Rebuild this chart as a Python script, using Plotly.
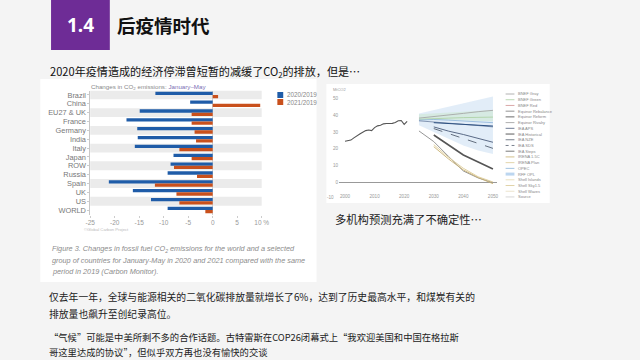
import plotly.graph_objects as go

# ---------------- data: left bar chart ----------------
countries = ["Brazil", "China", "EU27 & UK", "France", "Germany", "India", "Italy",
             "Japan", "ROW", "Russia", "Spain", "UK", "US", "WORLD"]
chg_2020 = [-11.7, -4.6, -14.9, -17.6, -15.4, -15.3, -15.9, -8.0, -8.6, -9.2, -21.2, -16.3, -12.6, -9.2]
chg_2021 = [1.1, 9.7, -4.3, -4.3, -3.7, -3.4, -6.8, -4.3, -7.9, -3.2, -11.8, -7.4, -6.8, -1.5]
bar_x_ticks = [-25, -20, -15, -10, -5, 0, 5, 10]
bar_x_labels = ["-25", "-20", "-15", "-10", "-5", "0", "5", "10 %"]
bar_series_names = ["2020/2019", "2021/2019"]

# ---------------- data: right line chart ----------------
hist_years = list(range(2000, 2022))
hist_emis = [24.5, 24.7, 25.2, 26.5, 27.8, 28.8, 29.8, 30.8, 31.2, 30.8, 32.6,
             33.6, 34.0, 34.8, 35.0, 35.0, 35.1, 35.6, 36.6, 36.8, 34.5, 36.3]
proj_years = [2025, 2030, 2035, 2040, 2045, 2050]
bnef_gray = [38.2, 39.0, 40.0, 41.0, 42.0, 42.8]
equinor_rivalry = [37.5, 38.0, 38.2, 38.5, 38.6, 38.8]
opec = [37.0, 37.4, 37.0, 36.5, 36.0, 35.5]
equinor_reform = [36.6, 36.0, 35.2, 34.5, 33.8, 33.0]
iea_steps = [None, 35.5, 35.0, 34.5, 34.0, 33.5]
iea_aps = [None, 33.0, 30.5, 28.5, 26.0, 23.9]
iea_sds = [None, 32.0, 29.0, 26.0, 23.0, 20.3]
bnef_green = [None, 28.2, 22.3, 16.4, 12.2, 8.1]
equinor_rebalance = [30.6, 24.3, 15.5, 6.9, 2.8, 0.0]
iea_nze = [None, 21.3, 14.0, 7.5, 3.0, -0.6]
irena_15c = [None, 22.5, 15.0, 8.5, 3.5, 0.4]
fan_upper = [41.0, 43.0, 45.0, 47.0, 49.0, 51.0]
fan_lower = [34.0, 30.0, 26.0, 22.0, 19.0, 17.0]
green_upper = [40.5, 41.0, 41.5, 42.0, 42.5, 43.0]
green_lower = [37.5, 37.3, 37.0, 36.8, 36.5, 36.3]
line_x_ticks = [2000, 2010, 2020, 2030, 2040, 2050]
line_y_ticks = [0, 10, 20, 30, 40, 50]
legend_names = ["BNEF Gray", "BNEF Green", "BNEF Red", "Equinor Rebalance", "Equinor Reform",
                "Equinor Rivalry", "IEA APS", "IEA Historical", "IEA NZE", "IEA SDS", "IEA Steps",
                "IRENA 1.5C", "IRENA Plan", "OPEC", "RFF OPL", "Shell Islands", "Shell Sky1.5",
                "Shell Waves", "Source"]

W, H = 640, 360
def px(x): return x / W
def py(y): return 1 - y / H

BLUE = "#1f5ca8"
ORANGE = "#c9501c"
CJK = "Noto Sans CJK SC"
LAT = "Liberation Sans"

fig = go.Figure()

# bar chart
fig.add_trace(go.Bar(y=countries, x=chg_2020, orientation="h", name=bar_series_names[0],
                     marker=dict(color=BLUE, line=dict(width=0)), xaxis="x", yaxis="y"))
fig.add_trace(go.Bar(y=countries, x=chg_2021, orientation="h", name=bar_series_names[1],
                     marker=dict(color=ORANGE, line=dict(width=0)), xaxis="x", yaxis="y"))

# line chart: fans
def band(upper, lower, color):
    fig.add_trace(go.Scatter(x=proj_years + proj_years[::-1], y=upper + lower[::-1],
                             fill="toself", fillcolor=color, line=dict(width=0), mode="lines",
                             xaxis="x2", yaxis="y2", hoverinfo="skip"))
band(fan_upper, fan_lower, "rgba(190,215,240,0.45)")
band(green_upper, green_lower, "rgba(200,230,200,0.45)")

proj_lines = [
    (bnef_gray, "#a0a0a0", 0.8, "solid"),
    (equinor_rivalry, "#a9cf9f", 0.8, "solid"),
    (opec, "#8cb4d8", 0.8, "solid"),
    (equinor_reform, "#6b7fa0", 0.8, "solid"),
    (iea_steps, "#2b4f80", 1.0, "solid"),
    (iea_aps, "#4a5a78", 0.9, "solid"),
    (iea_sds, "#556070", 0.9, "dash"),
    (bnef_green, "#555555", 1.6, "solid"),
    (equinor_rebalance, "#8a8a8a", 0.9, "solid"),
    (iea_nze, "#c8b070", 0.9, "solid"),
    (irena_15c, "#dccb95", 0.9, "solid"),
]
for vals, col, wd, dsh in proj_lines:
    fig.add_trace(go.Scatter(x=proj_years, y=vals, mode="lines",
                             line=dict(color=col, width=wd, dash=dsh),
                             xaxis="x2", yaxis="y2", connectgaps=False))
fig.add_trace(go.Scatter(x=hist_years, y=hist_emis, mode="lines",
                         line=dict(color="#555555", width=1.1), xaxis="x2", yaxis="y2"))

shapes = []
# panel backgrounds
shapes.append(dict(type="rect", xref="paper", yref="paper", x0=px(36), x1=px(318), y0=py(282), y1=py(79),
                   fillcolor="white", line=dict(width=0), layer="below"))
shapes.append(dict(type="rect", xref="paper", yref="paper", x0=px(328), x1=px(556), y0=py(203), y1=py(84),
                   fillcolor="white", line=dict(width=0), layer="below"))
# purple header box
shapes.append(dict(type="rect", xref="paper", yref="paper", x0=px(47), x1=px(107), y0=py(50), y1=py(0),
                   fillcolor="#6e2c96", line=dict(width=0), layer="below"))
# alternating bands in bar chart
for i in range(0, len(countries), 2):
    shapes.append(dict(type="rect", xref="x domain", yref="y", x0=0, x1=1, y0=i - 0.5, y1=i + 0.5,
                       fillcolor="#ebebeb", line=dict(width=0), layer="below"))
# bar legend swatches
shapes.append(dict(type="rect", xref="paper", yref="paper", x0=px(278), x1=px(284), y0=py(98), y1=py(92),
                   fillcolor=BLUE, line=dict(width=0)))
shapes.append(dict(type="rect", xref="paper", yref="paper", x0=px(278), x1=px(284), y0=py(105), y1=py(99),
                   fillcolor=ORANGE, line=dict(width=0)))

annotations = []
def txt(x, y, s, size, color="#222", family=CJK, xanchor="left", bold=False, **kw):
    if bold:
        s = "<b>" + s + "</b>"
    annotations.append(dict(x=px(x), y=py(y), xref="paper", yref="paper", text=s, showarrow=False,
                            xanchor=xanchor, yanchor="middle", font=dict(size=size, color=color, family=family), **kw))

txt(77, 25, "1.4", 19, color="white", family="Noto Sans", xanchor="center", bold=True)
txt(112, 25, "后疫情时代", 18.5, color="#111", bold=True)
txt(44, 72, "2020年疫情造成的经济停滞曾短暂的减缓了CO<sub>2</sub>的排放，但是…", 11.1, color="#111")

txt(86, 87, "Changes in CO<sub>2</sub> emissions: <span style='color:#7b6fb5'>January–May</span>", 6.2,
    color="#8a8a8a", family=LAT)
txt(286, 95, bar_series_names[0], 6.3, color="#888", family=LAT)
txt(286, 102, bar_series_names[1], 6.3, color="#888", family=LAT)
txt(79, 230, "©Global Carbon Project", 4.2, color="#bbb", family=LAT)
cap_lines = ["Figure 3. Changes in fossil fuel CO<sub>2</sub> emissions for the world and a selected",
             "group of countries for January-May in 2020 and 2021 compared with the same",
             "period in 2019 (Carbon Monitor)."]
for k, line in enumerate(cap_lines):
    txt(46, 249 + k * 11, "<i>" + line + "</i>", 7.3, color="#8c8c8c", family=LAT)

# right chart extra labels
txt(333, 89, "MtCO2", 4, color="#999", family=LAT)
txt(338, 197, "-10", 4.6, color="#999", family=LAT, xanchor="right")

# right legend
leg_styles = [("#a0a0a0", "solid"), ("#a9cf9f", "solid"), ("#d09090", "dash"), ("#777", "dash"),
              ("#444", "solid"), ("#999", "solid"), ("#4a5a78", "dash"), ("#333", "solid"),
              ("#556070", "dash"), ("#556070", "dot"), ("#555", "solid"), ("#c8b070", "solid"),
              ("#dccb95", "solid"), ("#8cb4d8", "solid"), ("#bcd6f0", "solid"), ("#e6d9b0", "solid"),
              ("#d8c690", "solid"), ("#e6dcc0", "solid"), ("#ccc", "solid")]
for i, name in enumerate(legend_names):
    yy = 94 + i * 5.72
    col, dsh = leg_styles[i]
    wd = 3 if name == "RFF OPL" else 0.8
    shapes.append(dict(type="line", xref="paper", yref="paper", x0=px(511), x1=px(520), y0=py(yy), y1=py(yy),
                       line=dict(color=col, width=wd, dash=dsh)))
    txt(522, yy, name, 4, color="#888", family=LAT)

txt(335, 219, "多机构预测充满了不确定性…", 11.3, color="#222")

txt(43, 297, "仅去年一年，全球与能源相关的二氧化碳排放量就增长了6%，达到了历史最高水平，和煤炭有关的", 9.8, color="#222")
txt(43, 314, "排放量也飙升至创纪录高位。", 9.8, color="#222")
txt(43, 337, "“气候”可能是中美所剩不多的合作话题。古特雷斯在COP26闭幕式上“我欢迎美国和中国在格拉斯", 9.3, color="#222")
txt(43, 352, "哥这里达成的协议”，但似乎双方再也没有愉快的交谈", 9.3, color="#222")

fig.update_layout(
    width=W, height=H, autosize=False,
    margin=dict(l=0, r=0, t=0, b=0),
    paper_bgcolor="#f4f4f4", plot_bgcolor="rgba(0,0,0,0)",
    showlegend=False, barmode="group", bargap=0.26, bargroupgap=0.0,
    shapes=shapes, annotations=annotations,
    xaxis=dict(domain=[px(87), px(262)], range=[-25, 10], tickvals=bar_x_ticks, ticktext=bar_x_labels,
               tickfont=dict(size=6.5, color="#999", family=LAT), showgrid=False,
               zeroline=True, zerolinecolor="#cfcfcf", zerolinewidth=0.6,
               ticks="outside", ticklen=2, tickcolor="#ccc", anchor="y", fixedrange=True),
    yaxis=dict(domain=[py(214.5), py(90.5)], categoryorder="array", categoryarray=countries,
               tickmode="array", tickvals=countries, ticktext=countries,
               autorange="reversed", tickfont=dict(size=7.4, color="#777", family=LAT),
               showline=True, linecolor="#c8c8c8", linewidth=0.6, ticks="outside", ticklen=2,
               tickcolor="#ccc", showgrid=False, anchor="x", fixedrange=True),
    xaxis2=dict(domain=[px(341), px(502)], range=[1998, 2051.3], tickvals=line_x_ticks,
                tickfont=dict(size=4.6, color="#999", family=LAT), showgrid=False, zeroline=False,
                anchor="y2", ticks="", fixedrange=True),
    yaxis2=dict(domain=[py(192.8), py(94.8)], range=[-6, 52], tickvals=line_y_ticks,
                tickfont=dict(size=4.6, color="#999", family=LAT), showgrid=False,
                zeroline=True, zerolinecolor="#999", zerolinewidth=0.8,
                anchor="x2", ticks="", fixedrange=True),
)

fig.write_html("out.html")
